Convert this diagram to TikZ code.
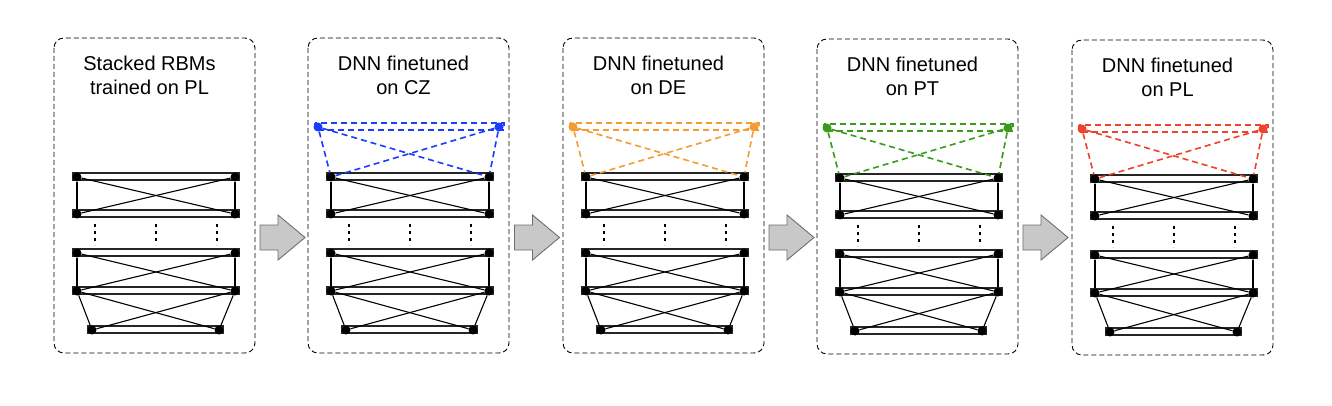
\documentclass[tikz,border=0pt]{standalone}
\usepackage{fontspec}
\setmainfont{Liberation Sans}
\usetikzlibrary{backgrounds}
\definecolor{cblue}{RGB}{26,60,255}
\definecolor{corange}{RGB}{243,156,47}
\definecolor{cgreen}{RGB}{58,154,28}
\definecolor{cred}{RGB}{240,65,42}
\definecolor{agray}{RGB}{200,200,200}
\definecolor{aline}{RGB}{110,110,110}
\begin{document}
\begin{tikzpicture}[x=1pt,y=-1pt,
  dot/.style={circle,fill=black,inner sep=0pt,minimum size=9pt},
  cdot/.style={circle,fill=#1,inner sep=0pt,minimum size=9pt},
  link/.style={line width=1.1pt},
  bar/.style={line width=1.3pt,draw=black!85},
  clink/.style={draw=#1,line width=1.6pt,dash pattern=on 6pt off 4pt},
  dotline/.style={line width=1.6pt,dash pattern=on 3pt off 4pt},
  panel/.style={draw,line width=0.9pt,dash pattern=on 5pt off 3pt,rounded corners=10pt},
  lbl/.style={font=\fontsize{20}{24}\selectfont,anchor=base,inner sep=0pt},
  garrow/.style={fill=agray,draw=aline,line width=0.9pt}]
\useasboundingbox (0,0) rectangle (1332,406);
\begin{pgfonlayer}{background}
\fill[white] (0,0) rectangle (1332,406);
\end{pgfonlayer}
\foreach \i/\x/\y/\ta/\tb in {1/54/38/Stacked RBMs/trained on PL,
    2/308/38/DNN finetuned/on CZ, 3/563/38/DNN finetuned/on DE,
    4/817/39/DNN finetuned/on PT, 5/1072/40/DNN finetuned/on PL}{
  \begin{scope}[shift={(\x,\y)}]
    \draw[panel] (0,0) rectangle (201,315);
    \node[lbl] (t\i a) at (95.5,33) {\ta};
    \node[lbl] (t\i b) at (95.5,57) {\tb};
    \node[dot] (p\i-1l) at (23,139) {};
    \node[dot] (p\i-1r) at (181,139) {};
    \node[dot] (p\i-2l) at (23,176) {};
    \node[dot] (p\i-2r) at (181,176) {};
    \node[dot] (p\i-3l) at (23,215) {};
    \node[dot] (p\i-3r) at (181,215) {};
    \node[dot] (p\i-4l) at (23,253) {};
    \node[dot] (p\i-4r) at (181,253) {};
    \node[dot] (p\i-5l) at (38,292) {};
    \node[dot] (p\i-5r) at (165,292) {};
    \begin{pgfonlayer}{background}
    \foreach \k in {1,...,5}{
      \draw[bar] ([xshift=-4pt,yshift=4pt]p\i-\k l.center) rectangle ([xshift=4pt,yshift=-3pt]p\i-\k r.center);
    }
    \foreach \a/\b in {1/2,3/4,4/5}{
      \draw[link] (p\i-\a l) -- (p\i-\b l);
      \draw[link] (p\i-\a r) -- (p\i-\b r);
      \draw[link] (p\i-\a l) -- (p\i-\b r);
      \draw[link] (p\i-\a r) -- (p\i-\b l);
    }
    \end{pgfonlayer}
    \foreach \m/\xx in {a/41,b/102,c/163}{
      \coordinate (d\i\m t) at (\xx,186);
      \coordinate (d\i\m b) at (\xx,207);
      \draw[dotline] (d\i\m t) -- (d\i\m b);
    }
  \end{scope}
}
\foreach \i/\x/\y/\c in {2/308/38/cblue,3/563/38/corange,4/817/39/cgreen,5/1072/40/cred}{
  \begin{scope}[shift={(\x,\y)}]
    \node[cdot=\c] (p\i-0l) at (10,89) {};
    \node[cdot=\c] (p\i-0r) at (191,89) {};
    \begin{pgfonlayer}{background}
    \draw[clink=\c] ([xshift=-3pt,yshift=4pt]p\i-0l.center) rectangle ([xshift=5pt,yshift=-3pt]p\i-0r.center);
    \end{pgfonlayer}
    \draw[clink=\c] (p\i-0l) -- (p\i-1l);
    \draw[clink=\c] (p\i-0r) -- (p\i-1r);
    \draw[clink=\c] (p\i-0l) -- (p\i-1r);
    \draw[clink=\c] (p\i-0r) -- (p\i-1l);
  \end{scope}
}
\foreach \j/\x in {1/260,2/514.5,3/769,4/1023}{
  \draw[garrow] (\x,225) -- (\x+18,225) -- (\x+18,215) -- (\x+45,237.5)
     -- (\x+18,260) -- (\x+18,250) -- (\x,250) -- cycle;
}
\end{tikzpicture}
\end{document}
